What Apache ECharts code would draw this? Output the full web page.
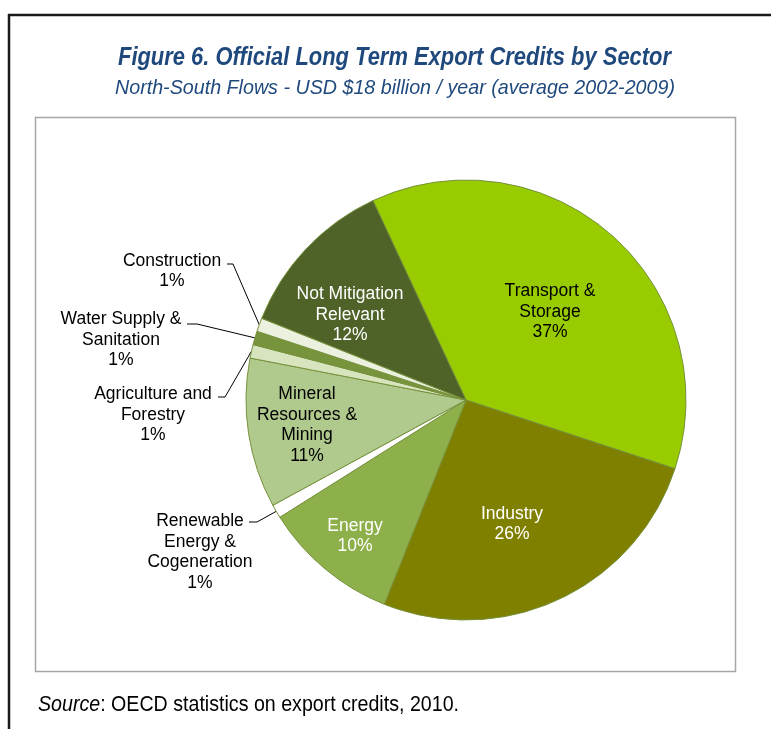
<!DOCTYPE html>
<html>
<head>
<meta charset="utf-8">
<script src="https://cdn.jsdelivr.net/npm/echarts@6/dist/echarts.min.js"></script>
<style>
  html, body { margin: 0; padding: 0; background: #fff; }
  #chart { width: 771px; height: 729px; }
</style>
</head>
<body>
<div id="chart"></div>
<script>
// Sector shares of official long-term export credits (percent), clockwise from the top
const sectors = [
  'Transport &\nStorage',
  'Industry',
  'Energy',
  'Renewable\nEnergy &\nCogeneration',
  'Mineral\nResources &\nMining',
  'Agriculture and\nForestry',
  'Water Supply &\nSanitation',
  'Construction',
  'Not Mitigation\nRelevant'
];
const shares = [37, 26, 10, 1, 11, 1, 1, 1, 12];

const titleText = 'Figure 6. Official Long Term Export Credits by Sector';
const subtitleText = 'North-South Flows - USD $18 billion / year (average 2002-2009)';
const sourceLead = 'Source';
const sourceRest = ': OECD statistics on export credits, 2010.';

const sliceColors = ['#99CC00', '#808000', '#8DB04B', '#FFFFFF', '#B0C98C',
                     '#D7E4BD', '#77933C', '#EBF1DE', '#4F6228'];
const labelColors = ['#000', '#fff', '#fff', '#000', '#000', '#000', '#000', '#000', '#fff'];

// pie geometry
const CX = 466, CY = 400, R = 220;

// label placement, as offsets from the pie centre
// c: text block centre; knee/end: leader line bend and end point (outside labels only)
const labelPlace = [
  { c: [84, -88] },
  { c: [46, 124] },
  { c: [-111, 136] },
  { c: [-266, 152], knee: [-209, 122], end: [-217, 122] },
  { c: [-159, 25] },
  { c: [-313, 15], knee: [-241, -3], end: [-248, -3] },
  { c: [-345, -60], knee: [-269, -76], end: [-279, -76] },
  { c: [-294, -129], knee: [-233, -136], end: [-239, -136] },
  { c: [-116, -85] }
];

const FONT = '"Liberation Sans", Arial, sans-serif';

// condensed look for the heading and note: regular sans squeezed to a set width
const measureCtx = document.createElement('canvas').getContext('2d');
function textWidth(text, font) {
  measureCtx.font = font;
  return measureCtx.measureText(text).width;
}
const titleFont = 'italic bold 25px ' + FONT;
const subFont = 'italic 21px ' + FONT;
const srcItalicFont = 'italic 22px ' + FONT;
const srcFont = '22px ' + FONT;
const titleScale = 553 / textWidth(titleText, titleFont);
const subScale = 560 / textWidth(subtitleText, subFont);
const leadW = textWidth(sourceLead, srcItalicFont);
const srcScale = 421 / (leadW + textWidth(sourceRest, srcFont));

const chart = echarts.init(document.getElementById('chart'), null, { renderer: 'canvas' });

chart.setOption({
  backgroundColor: '#ffffff',
  animation: false,
  graphic: [
    // outer frame (top and left rules)
    { type: 'line', shape: { x1: 8, y1: 15, x2: 771, y2: 15 }, style: { stroke: '#1a1a1a', lineWidth: 2.5 } },
    { type: 'line', shape: { x1: 9, y1: 14, x2: 9, y2: 729 }, style: { stroke: '#1a1a1a', lineWidth: 2.5 } },
    // plot area box
    { type: 'rect', shape: { x: 35.5, y: 117.5, width: 700, height: 554 },
      style: { fill: 'none', stroke: '#A6A6A6', lineWidth: 1.5 }, z: -1 },
    // heading
    { type: 'text', x: 394.5, y: 58, scaleX: titleScale,
      style: { text: titleText, font: titleFont, fill: '#1F497D', align: 'center', verticalAlign: 'middle' } },
    { type: 'text', x: 395, y: 88.5, scaleX: subScale,
      style: { text: subtitleText, font: subFont, fill: '#1F497D', align: 'center', verticalAlign: 'middle' } },
    // source note
    { type: 'group', x: 38, y: 705, scaleX: srcScale, children: [
      { type: 'text', x: 0, y: 0,
        style: { text: sourceLead, font: srcItalicFont, fill: '#000', align: 'left', verticalAlign: 'middle' } },
      { type: 'text', x: leadW, y: 0,
        style: { text: sourceRest, font: srcFont, fill: '#000', align: 'left', verticalAlign: 'middle' } }
    ] }
  ],
  series: [{
    type: 'pie',
    center: [CX, CY],
    radius: R,
    startAngle: 115,
    clockwise: true,
    avoidLabelOverlap: false,
    itemStyle: { borderColor: '#76923C', borderWidth: 1 },
    label: {
      show: true,
      position: 'outside',
      fontFamily: FONT,
      fontSize: 17.5,
      lineHeight: 20.5,
      align: 'center',
      formatter: p => p.name + '\n' + p.value + '%'
    },
    labelLine: { show: false, lineStyle: { color: '#000', width: 1 } },
    labelLayout: function (p) {
      const lp = labelPlace[p.dataIndex];
      const out = {
        x: CX + lp.c[0], y: CY + lp.c[1],
        align: 'center', verticalAlign: 'middle'
      };
      if (lp.knee && p.labelLinePoints) {
        out.labelLinePoints = [
          p.labelLinePoints[0],
          [CX + lp.knee[0], CY + lp.knee[1]],
          [CX + lp.end[0], CY + lp.end[1]]
        ];
      }
      return out;
    },
    data: sectors.map((name, i) => ({
      name: name,
      value: shares[i],
      itemStyle: { color: sliceColors[i] },
      label: { color: labelColors[i] },
      labelLine: { show: !!labelPlace[i].knee, length: 10, length2: 10 }
    }))
  }]
});
</script>
</body>
</html>
